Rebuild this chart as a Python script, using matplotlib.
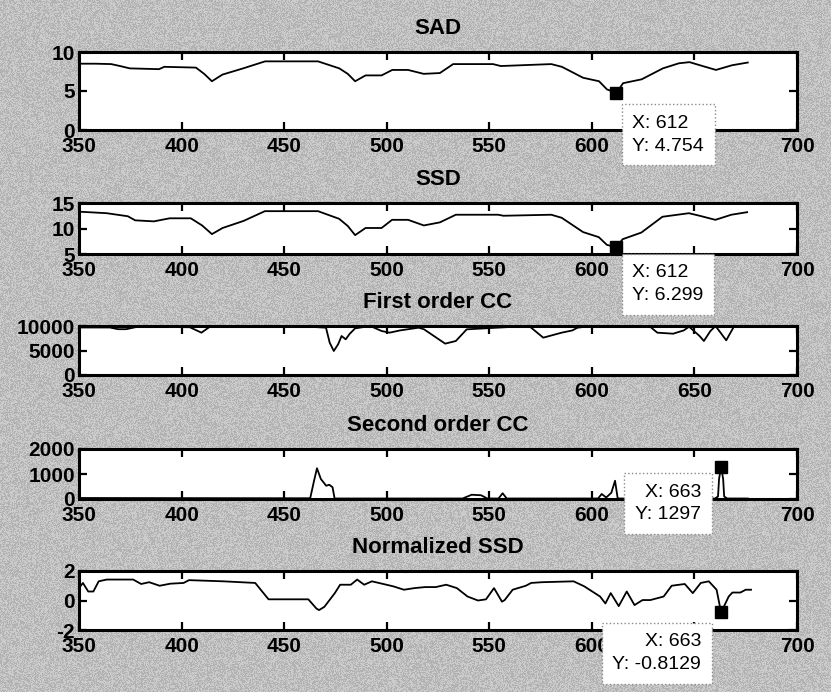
import matplotlib
matplotlib.use("Agg")
import matplotlib.pyplot as plt
import numpy as np

plt.rcParams['font.family'] = ['Liberation Sans', 'DejaVu Sans']
plt.rcParams['axes.unicode_minus'] = False

# ---- data -------------------------------------------------------------
sad_x = [350, 352, 358, 365.7, 370, 374.8, 389, 391.6, 407, 411, 414.8, 419.9, 430, 440.7,
         466.5, 476.9, 481, 484.6, 489.7, 497.5, 502.7, 510.4, 518, 525.9, 532.4, 551.8,
         555.6, 580.2, 585.4, 595.7, 603.5, 607.4, 612, 615.2, 624.3, 634.6, 642.4, 647.6,
         652.7, 660.5, 668.3, 676]
sad_y = [8.5, 8.5, 8.5, 8.45, 8.2, 7.9, 7.8, 8.1, 8.0, 7.2, 6.25, 7.1, 7.9, 8.8,
         8.8, 7.9, 7.2, 6.25, 7.0, 7.0, 7.7, 7.7, 7.2, 7.3, 8.45, 8.45,
         8.2, 8.45, 8.1, 6.7, 6.25, 5.2, 4.754, 6.0, 6.5, 7.9, 8.55, 8.7,
         8.3, 7.7, 8.3, 8.65]

ssd_x = [350, 363.5, 373.8, 377.4, 386.5, 394.2, 404.5, 410, 414.8, 420, 430.3, 440.6,
         466.5, 476.8, 481, 484.6, 489.7, 497.5, 502.6, 510.4, 518.1, 525.9, 533.7,
         554.3, 556.9, 580.2, 585.3, 595.7, 603.4, 607.3, 612, 615, 624.1, 634.4,
         647.3, 652.5, 660.2, 668, 675.7]
ssd_y = [13.3, 13.0, 12.4, 11.6, 11.4, 12.0, 12.0, 10.6, 8.9, 10.1, 11.5, 13.4,
         13.4, 11.9, 10.5, 8.7, 10.1, 10.1, 11.7, 11.7, 10.6, 11.2, 12.7,
         12.7, 12.5, 12.7, 12.1, 9.3, 8.3, 6.8, 6.299, 7.9, 9.2, 12.3,
         13.0, 12.5, 11.7, 12.7, 13.2]

cc1_x = [350, 365, 369, 373, 378, 382, 392, 404, 409.7, 413.6, 430, 460, 470.4, 472.2,
         474.2, 476.3, 478, 480, 482, 484.6, 492, 497.5, 501.4, 506.5, 515.6, 518.2,
         528.5, 533.7, 539, 560, 570, 576.3, 585.3, 590.5, 593, 600, 628, 631.9, 639.6,
         644.8, 647.4, 652.5, 654.6, 657.8, 660.3, 665.5, 669.4]
cc1_y = [9700, 9700, 9350, 9350, 9800, 9800, 9800, 9750, 8640, 9800, 9900, 9900, 9660, 6600,
         4900, 6260, 7960, 7280, 8430, 9520, 10000, 8980, 8640, 9100, 9660, 9320,
         6400, 6940, 9320, 9800, 9800, 7620, 8640, 9100, 9660, 10000, 10000, 8640, 8430,
         9100, 9860, 7960, 6940, 8980, 10000, 7080, 10000]

cc2_x = [350, 400, 455, 462.7, 464.5, 466, 467.9, 470.5, 472, 473.6, 474.6, 520, 537,
         541.4, 546, 549, 554.5, 556.5, 558.5, 600, 603, 604.8, 607, 609.5, 611.3,
         612.6, 660, 661.5, 662, 663, 664, 664.5, 666, 676]
cc2_y = [40, 35, 30, 30, 700, 1230, 800, 530, 570, 470, 20, 20, 20,
         170, 150, 20, 20, 230, 20, 20, 20, 200, 60, 250, 730,
         20, 20, 100, 800, 1297, 800, 100, 20, 20]

nssd_x = [350, 351.9, 354.5, 357, 359.6, 363.5, 376.4, 380.3, 384.2, 389.3, 394.5, 401,
          403.6, 420.4, 435.9, 442.4, 461.8, 465.7, 467, 469.6, 474.7, 477.3, 482.5,
          485.6, 489, 492.8, 503.2, 508.4, 513.5, 518.7, 523.9, 529, 534.2, 539.4,
          544.5, 548.4, 552.3, 556.2, 557.5, 561.4, 567.8, 570.4, 575.6, 591.1, 596.3,
          604, 606.6, 609.2, 613.1, 617, 620.8, 624.7, 628.5, 635, 638.9, 645.3, 649.2,
          653.1, 657, 660.8, 663, 666.7, 668.5, 672.4, 675, 677.6]
nssd_y = [0.84, 1.19, 0.61, 0.61, 1.3, 1.42, 1.42, 1.12, 1.24, 1.0, 1.14, 1.19,
          1.38, 1.3, 1.19, 0.08, 0.08, -0.54, -0.65, -0.43, 0.5, 1.07, 1.07,
          1.42, 1.07, 1.3, 0.96, 0.73, 0.84, 0.91, 0.91, 1.07, 0.84, 0.27,
          0.0, 0.08, 0.84, -0.08, 0.03, 0.73, 1.0, 1.19, 1.24, 1.3, 0.96,
          0.27, -0.2, 0.5, -0.38, 0.61, -0.31, 0.03, 0.03, 0.27, 1.0, 1.12, 0.5,
          1.19, 1.3, 0.73, -0.8129, 0.27, 0.54, 0.54, 0.73, 0.73]

titles = ["SAD", "SSD", "First order CC", "Second order CC", "Normalized SSD"]
series_x = [sad_x, ssd_x, cc1_x, cc2_x, nssd_x]
series_y = [sad_y, ssd_y, cc1_y, cc2_y, nssd_y]
ylims = [(0, 10), (5, 15), (0, 10000), (0, 2000), (-2, 2)]
yticks = [[0, 5, 10], [5, 10, 15], [0, 5000, 10000], [0, 1000, 2000], [-2, 0, 2]]
xticks = [350, 400, 450, 500, 550, 600, 650, 700]

# data tips: (x, y, label, text offset in pixels, alignment)
tips = [
    (612, 4.754, "X: 612\nY: 4.754", (16, -22), "left"),
    (612, 6.299, "X: 612\nY: 6.299", (16, -17), "left"),
    None,
    (663, 1297, "X: 663\nY: 1297", (-20, -17), "right"),
    (663, -0.8129, "X: 663\nY: -0.8129", (-20, -21), "right"),
]

# axes rectangles in pixels: (top, bottom)
W, H = 831, 692
rows = [(52, 130), (203, 254), (326, 375), (449, 499), (571, 630)]
left_px, right_px = 79, 797

fig = plt.figure(figsize=(W / 100, H / 100), dpi=100)
fig.patch.set_facecolor("#c6c6c6")

# printed-page grain on the grey background (kept behind the axes)
rng = np.random.default_rng(7)
grain = rng.random((H, W))
tex = np.zeros((H, W, 4))
tex[..., :3] = (grain > 0.5)[..., None].astype(float)
tex[..., 3] = 0.10
bg = fig.figimage(tex, xo=0, yo=0, origin="upper")
bg.set_zorder(-10)

for i in range(5):
    top, bot = rows[i]
    ax = fig.add_axes([left_px / W, 1 - bot / H, (right_px - left_px) / W, (bot - top) / H])
    ax.set_zorder(i + 1)
    ax.set_facecolor("white")
    ax.plot(series_x[i], series_y[i], color="black", lw=1.3, zorder=3)
    ax.set_xlim(350, 700)
    ax.set_ylim(*ylims[i])
    ax.set_xticks(xticks)
    ax.set_yticks(yticks[i])
    ax.tick_params(direction="in", top=True, right=True, length=6, width=1.6,
                   labelsize=15)
    ax.tick_params(axis="x", pad=5)
    ax.tick_params(axis="y", pad=3)
    for lab in ax.get_xticklabels() + ax.get_yticklabels():
        lab.set_fontweight("bold")
    for sp in ax.spines.values():
        sp.set_linewidth(2.2)
    ax.set_title(titles[i], fontsize=16, fontweight="bold", pad=13)

    tip = tips[i]
    if tip is not None:
        tx, ty, txt, off, ha = tip
        ax.plot([tx], [ty], marker="s", ms=9, color="black", zorder=6, clip_on=False)
        ax.annotate(txt, xy=(tx, ty), xytext=off, textcoords="offset pixels",
                    ha=ha, va="top", multialignment=ha, fontsize=14,
                    linespacing=1.45, zorder=7, annotation_clip=False,
                    bbox=dict(boxstyle="square,pad=0.55", fc="white",
                              ec="#8a8a8a", ls=":", lw=1))

fig.savefig("out.png", dpi=100, facecolor=fig.get_facecolor())
